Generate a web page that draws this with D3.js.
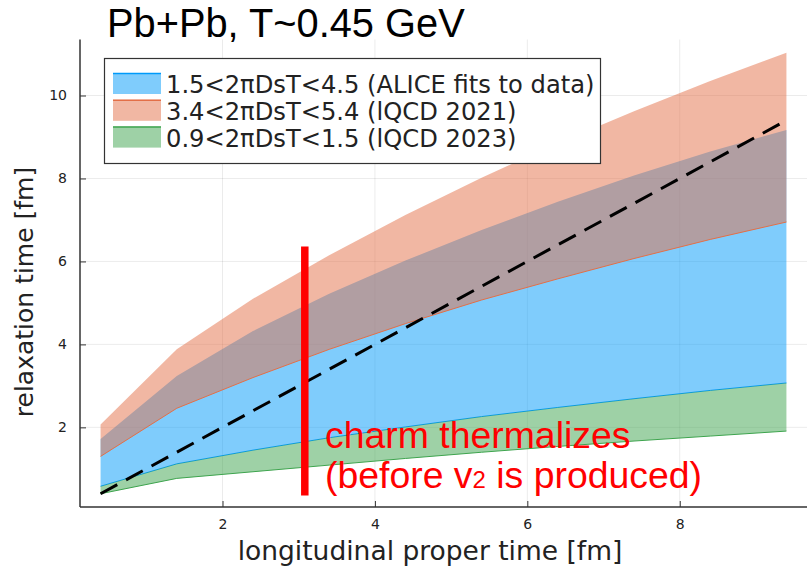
<!DOCTYPE html>
<html>
<head>
<meta charset="utf-8">
<script src="https://cdn.jsdelivr.net/npm/d3@7"></script>
<style>
  html, body { margin: 0; padding: 0; background: #fff; }
  svg { display: block; }
</style>
</head>
<body>
<svg id="chart" width="808" height="568"></svg>
<script>
// ---- data ----
const tau = [0.4, 1.4, 2.4, 3.4, 4.4, 5.4, 6.4, 7.4, 8.4, 9.4];
// ALICE fits to data: 1.5 < 2πDsT < 4.5
const aliceLow  = [0.58, 1.12, 1.45, 1.75, 2.01, 2.26, 2.48, 2.69, 2.89, 3.07];
const aliceHigh = [1.72, 3.24, 4.32, 5.22, 6.02, 6.76, 7.44, 8.07, 8.65, 9.17];
// lQCD 2021: 3.4 < 2πDsT < 5.4
const lqcd21Low  = [1.30, 2.46, 3.20, 3.88, 4.50, 5.07, 5.58, 6.07, 6.53, 6.95];
const lqcd21High = [2.07, 3.88, 5.10, 6.15, 7.12, 8.02, 8.85, 9.62, 10.35, 11.03];
// lQCD 2023: 0.9 < 2πDsT < 1.5
const lqcd23Low  = [0.40, 0.77, 0.93, 1.09, 1.25, 1.40, 1.54, 1.67, 1.79, 1.91];
const lqcd23High = [0.58, 1.12, 1.45, 1.75, 2.01, 2.26, 2.48, 2.69, 2.89, 3.07];
// dashed reference line (relaxation time = proper time)
const diagX = [0.4, 9.4];
const diagY = [0.4, 9.4];
// annotation bar
const barTau = 3.08;
const barRange = [0.36, 6.36];

const xTicks = [2, 4, 6, 8];
const yTicks = [2, 4, 6, 8, 10];
const seriesNames = [
  "1.5<2πDsT<4.5 (ALICE fits to data)",
  "3.4<2πDsT<5.4 (lQCD 2021)",
  "0.9<2πDsT<1.5 (lQCD 2023)"
];
const seriesColors = ["#009AFA", "#E36F47", "#3EA44E"];

// ---- drawing ----
const svg = d3.select("#chart");
const x = d3.scaleLinear().domain([0.13, 9.67]).range([80, 807]);
const y = d3.scaleLinear().domain([0.08, 11.35]).range([507, 39.5]);

const bands = [
  {low: aliceLow, high: aliceHigh, color: seriesColors[0]},
  {low: lqcd21Low, high: lqcd21High, color: seriesColors[1]},
  {low: lqcd23Low, high: lqcd23High, color: seriesColors[2]}
];

// grid
const grid = svg.append("g");
grid.selectAll("line.gx").data(xTicks).join("line")
  .attr("x1", d => x(d)).attr("x2", d => x(d))
  .attr("y1", y.range()[0]).attr("y2", y.range()[1])
  .attr("stroke", "#000").attr("stroke-opacity", 0.1).attr("stroke-width", 0.8);
grid.selectAll("line.gy").data(yTicks).join("line")
  .attr("y1", d => y(d)).attr("y2", d => y(d))
  .attr("x1", x.range()[0]).attr("x2", x.range()[1])
  .attr("stroke", "#000").attr("stroke-opacity", 0.1).attr("stroke-width", 0.8);

// bands
bands.forEach(b => {
  const pts = tau.map((t, i) => ({t, lo: b.low[i], hi: b.high[i]}));
  const area = d3.area().x(d => x(d.t)).y0(d => y(d.lo)).y1(d => y(d.hi));
  svg.append("path").datum(pts).attr("d", area)
    .attr("fill", b.color).attr("fill-opacity", 0.5).attr("stroke", "none");
  const line = d3.line().x(d => x(d.t)).y(d => y(d.lo));
  svg.append("path").datum(pts).attr("d", line)
    .attr("fill", "none").attr("stroke", b.color).attr("stroke-width", 1);
});

// dashed line
svg.append("path")
  .datum(diagX.map((v, i) => [v, diagY[i]]))
  .attr("d", d3.line().x(d => x(d[0])).y(d => y(d[1])))
  .attr("fill", "none").attr("stroke", "#000").attr("stroke-width", 3)
  .attr("stroke-dasharray", "19,10");

// axes
const axisColor = "#333";
const xAxis = d3.axisBottom(x).tickValues(xTicks).tickSize(-6).tickPadding(12).tickFormat(d3.format("d"));
const yAxis = d3.axisLeft(y).tickValues(yTicks).tickSize(-6).tickPadding(13).tickFormat(d3.format("d"));
const gx = svg.append("g").attr("transform", `translate(0,${y.range()[0]})`).call(xAxis);
const gy = svg.append("g").attr("transform", `translate(${x.range()[0]},0)`).call(yAxis);
[gx, gy].forEach(g => {
  g.select(".domain").attr("stroke", axisColor).attr("stroke-width", 1.5);
  g.selectAll(".tick line").attr("stroke", axisColor).attr("stroke-width", 1);
  g.selectAll(".tick text").attr("fill", "#222").attr("font-family", "DejaVu Sans").attr("font-size", 14);
});
gx.select(".domain").attr("d", `M${x.range()[0]},0H${x.range()[1]}`);
gy.select(".domain").attr("d", `M0,${y.range()[0]}V${y.range()[1]}`);

// axis labels
svg.append("text").attr("x", 430).attr("y", 560).attr("text-anchor", "middle")
  .attr("font-family", "DejaVu Sans").attr("font-size", 26.5).attr("fill", "#222")
  .text("longitudinal proper time [fm]");
svg.append("text").attr("transform", "translate(33,292) rotate(-90)").attr("text-anchor", "middle")
  .attr("font-family", "DejaVu Sans").attr("font-size", 25).attr("fill", "#222")
  .text("relaxation time [fm]");

// title
svg.append("text").attr("x", 107).attr("y", 37)
  .attr("font-family", "Liberation Sans").attr("font-size", 39.8).attr("fill", "#000")
  .text("Pb+Pb, T~0.45 GeV");

// legend
const lg = svg.append("g");
lg.append("rect").attr("x", 104.5).attr("y", 58.5).attr("width", 496).attr("height", 105)
  .attr("fill", "#fff").attr("stroke", "#333").attr("stroke-width", 1.2);
seriesNames.forEach((name, i) => {
  const top = 73 + i * 26.8;
  lg.append("rect").attr("x", 113).attr("y", top).attr("width", 48).attr("height", 21)
    .attr("fill", seriesColors[i]).attr("fill-opacity", 0.5);
  lg.append("line").attr("x1", 113).attr("x2", 161).attr("y1", top + 0.5).attr("y2", top + 0.5)
    .attr("stroke", seriesColors[i]).attr("stroke-width", 1.5);
  lg.append("text").attr("x", 166).attr("y", top + 20)
    .attr("font-family", "DejaVu Sans").attr("font-size", 24.2).attr("fill", "#222")
    .text(name);
});

// annotation
svg.append("line")
  .attr("x1", x(barTau)).attr("x2", x(barTau))
  .attr("y1", y(barRange[0])).attr("y2", y(barRange[1]))
  .attr("stroke", "#ff0000").attr("stroke-width", 7.5);
const ann = svg.append("text").attr("font-family", "Liberation Sans").attr("font-size", 37.4).attr("fill", "#ff0000");
ann.append("tspan").attr("x", 325).attr("y", 448).text("charm thermalizes");
const l2 = ann.append("tspan").attr("x", 325).attr("y", 488);
l2.append("tspan").text("(before v");
l2.append("tspan").attr("font-size", 24).text("2");
l2.append("tspan").text(" is produced)");
</script>
</body>
</html>
